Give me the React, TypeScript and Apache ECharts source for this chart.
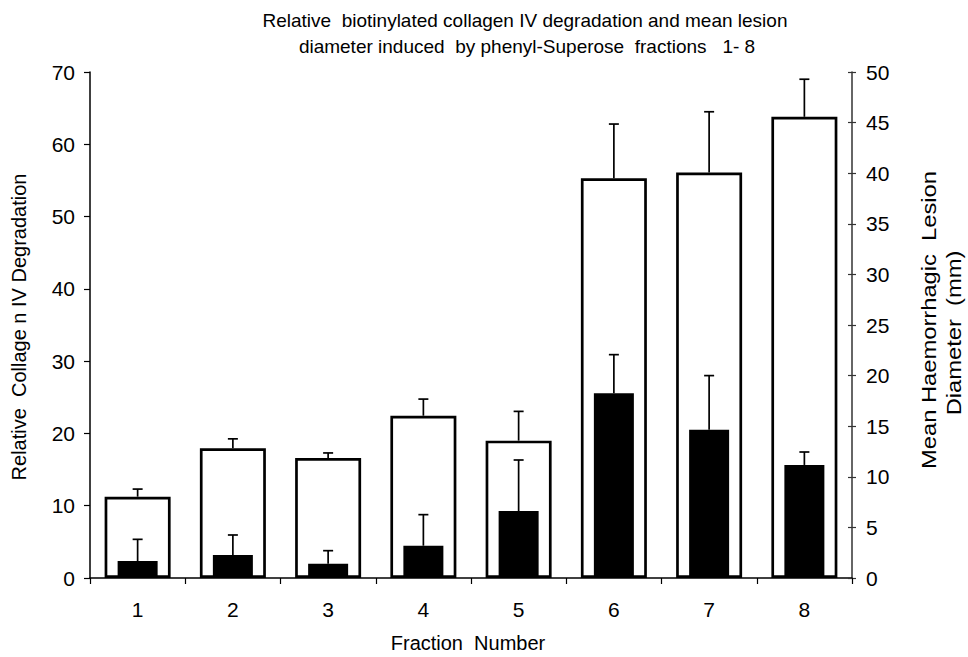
import React, { useEffect, useRef } from "react";
import * as echarts from "echarts";

const categories = ["1", "2", "3", "4", "5", "6", "7", "8"];
const collagenValues = [11.25, 17.95, 16.6, 22.45, 19.0, 55.3, 56.1, 63.8];
const collagenErrors = [1.05, 1.3, 0.7, 2.3, 4.05, 7.5, 8.4, 5.2];
const lesionValues = [1.68, 2.27, 1.41, 3.19, 6.62, 18.25, 14.65, 11.17];
const lesionErrors = [2.14, 1.98, 1.29, 3.07, 5.04, 3.82, 5.35, 1.28];
const leftTicks = { min: 0, max: 70, interval: 10 };
const rightTicks = { min: 0, max: 50, interval: 5 };

const FONT = "'Liberation Sans', Arial, sans-serif";

const errRender = (params: any, api: any) => {
  const x = api.value(0);
  const v = api.value(1);
  const e = api.value(2);
  const p0 = api.coord([x, v]);
  const p1 = api.coord([x, v + e]);
  const half = 5;
  const st = { stroke: "#000", lineWidth: 1.7 };
  return {
    type: "group",
    children: [
      { type: "line", shape: { x1: p0[0], y1: p0[1], x2: p1[0], y2: p1[1] }, style: st },
      { type: "line", shape: { x1: p1[0] - half, y1: p1[1], x2: p1[0] + half, y2: p1[1] }, style: st },
    ],
  };
};

export default function App() {
  const ref = useRef<HTMLDivElement>(null);
  useEffect(() => {
    if (!ref.current) return;
    const chart = echarts.init(ref.current, undefined, { renderer: "svg" });
    const labelStyle = { color: "#000", fontSize: 21, fontFamily: FONT };
    const nameStyle = { fontSize: 20, fontFamily: FONT, fill: "#000", align: "center", verticalAlign: "middle" };
    const rightNameStyle = { ...nameStyle, fontSize: 21 };
    chart.setOption({
      animation: false,
      backgroundColor: "#fff",
      textStyle: { fontFamily: FONT },
      grid: { left: 90, right: 116, top: 72, bottom: 79, containLabel: false },
      xAxis: [
        {
          type: "category",
          data: categories,
          boundaryGap: true,
          axisLine: { show: true, lineStyle: { color: "#000", width: 1.5 } },
          axisTick: { show: true, length: 6, lineStyle: { color: "#000", width: 1.2 } },
          axisLabel: { ...labelStyle, margin: 21 },
          splitLine: { show: false },
        },
        {
          type: "category",
          data: categories,
          show: false,
        },
      ],
      yAxis: [
        {
          type: "value",
          position: "left",
          ...leftTicks,
          axisLine: { show: true, lineStyle: { color: "#000", width: 1.5 } },
          axisTick: { show: true, length: 6, lineStyle: { color: "#000", width: 1.2 } },
          axisLabel: { ...labelStyle, margin: 15 },
          splitLine: { show: false },
        },
        {
          type: "value",
          position: "right",
          ...rightTicks,
          axisLine: { show: true, lineStyle: { color: "#333", width: 1.5 } },
          axisTick: { show: true, length: 4, lineStyle: { color: "#333", width: 1.2 } },
          axisLabel: { ...labelStyle, margin: 14 },
          splitLine: { show: false },
        },
        {
          type: "value",
          position: "right",
          ...rightTicks,
          axisLine: { show: false },
          axisTick: { show: true, inside: true, length: 4, lineStyle: { color: "#333", width: 1.2 } },
          axisLabel: { show: false },
          splitLine: { show: false },
        },
      ],
      series: [
        {
          name: "Relative Collagen IV Degradation",
          type: "bar",
          xAxisIndex: 0,
          yAxisIndex: 0,
          data: collagenValues,
          barWidth: 66,
          itemStyle: { color: "#fff", borderColor: "#000", borderWidth: 2.7 },
          z: 2,
        },
        {
          type: "custom",
          xAxisIndex: 0,
          yAxisIndex: 0,
          renderItem: errRender,
          data: collagenValues.map((v, i) => [i, v, collagenErrors[i]]),
          z: 3,
        },
        {
          name: "Mean Haemorrhagic Lesion Diameter",
          type: "bar",
          xAxisIndex: 1,
          yAxisIndex: 1,
          data: lesionValues,
          barWidth: 40,
          itemStyle: { color: "#000" },
          z: 4,
        },
        {
          type: "custom",
          xAxisIndex: 1,
          yAxisIndex: 1,
          renderItem: errRender,
          data: lesionValues.map((v, i) => [i, v, lesionErrors[i]]),
          z: 5,
        },
      ],
      graphic: [
        {
          type: "text",
          x: 525,
          y: 20,
          style: {
            text: "Relative  biotinylated collagen IV degradation and mean lesion",
            fontSize: 19,
            fontFamily: FONT,
            fill: "#000",
            align: "center",
            verticalAlign: "middle",
          },
        },
        {
          type: "text",
          x: 527,
          y: 46,
          style: {
            text: "diameter induced  by phenyl-Superose  fractions   1- 8",
            fontSize: 19,
            fontFamily: FONT,
            fill: "#000",
            align: "center",
            verticalAlign: "middle",
          },
        },
        {
          type: "text",
          x: 468,
          y: 643,
          style: { ...nameStyle, text: "Fraction  Number" },
        },
        {
          type: "text",
          x: 19,
          y: 327,
          rotation: Math.PI / 2,
          style: { ...nameStyle, text: "Relative  Collage n IV Degradation" },
        },
        {
          type: "text",
          x: 929,
          y: 320,
          rotation: Math.PI / 2,
          scaleX: 1.13,
          style: { ...rightNameStyle, text: "Mean Haemorrhagic  Lesion" },
        },
        {
          type: "text",
          x: 954,
          y: 333,
          rotation: Math.PI / 2,
          scaleX: 1.13,
          style: { ...rightNameStyle, text: "Diameter  (mm)" },
        },
      ],
    });
    return () => chart.dispose();
  }, []);
  return (
    <div
      ref={ref}
      style={{ position: "absolute", left: 0, top: 0, width: 968, height: 657, background: "#fff" }}
    />
  );
}
